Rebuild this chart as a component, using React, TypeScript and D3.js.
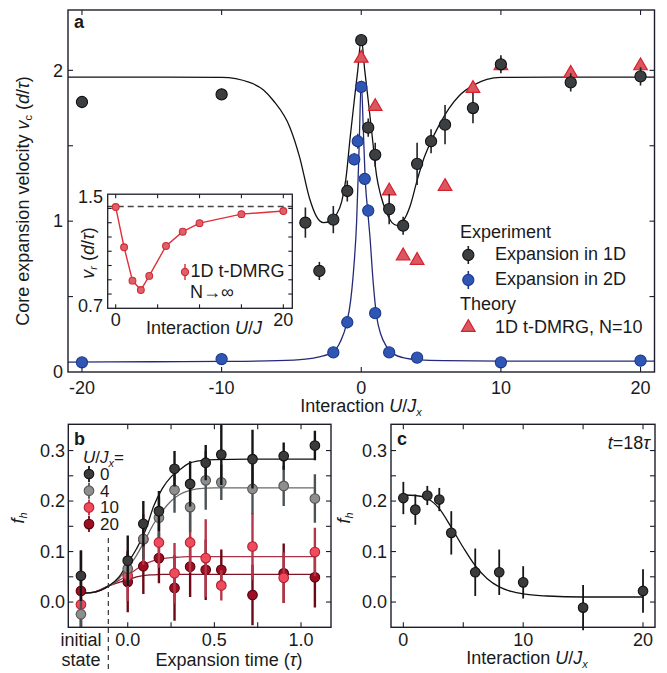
import React from 'react';
import * as d3 from 'd3';

const FONT = "'Liberation Sans', Arial, Helvetica, sans-serif";

// ---------------- Panel a data ----------------
const exp1dU = [-20, -10, -4, -3, -2, -1, 0, 0.5, 1, 2, 3, 4, 5, 6, 8, 10, 15, 20];
const exp1dV = [1.79, 1.84, 0.99, 0.67, 1.01, 1.2, 2.2, 1.62, 1.44, 1.08, 0.97, 1.38, 1.53, 1.64, 1.75, 2.04, 1.92, 1.96];
const exp1dErr = [0, 0.03, 0.1, 0.06, 0.09, 0.07, 0.03, 0.06, 0.08, 0.1, 0.06, 0.14, 0.08, 0.13, 0.1, 0.06, 0.06, 0.06];

const exp2dU = [-20, -10, -2, -1, -0.5, -0.25, 0, 0.25, 0.5, 1, 2, 4, 10, 20];
const exp2dV = [0.064, 0.086, 0.13, 0.33, 1.41, 1.53, 1.89, 1.28, 1.07, 0.39, 0.13, 0.095, 0.064, 0.075];
const exp2dErr = [0, 0, 0.02, 0.04, 0.04, 0.05, 0.03, 0.04, 0.04, 0.03, 0.02, 0.01, 0.01, 0.01];

const dmrgU = [0, 1, 2, 3, 4, 6, 8, 10, 15, 20];
const dmrgV = [2.08, 1.76, 1.2, 0.77, 0.74, 1.23, 1.88, 2.03, 1.98, 2.03];

const fit1dU = [-21, -14, -10, -8, -7, -6.3, -5.1, -4.4, -3.7, -3.2, -2.7, -2.2, -1.8, -1.4, -1.1, -0.8, -0.5, -0.25, 0, 0.25, 0.5, 0.8, 1.1, 1.4, 1.8, 2.2, 2.6, 3.0, 3.5, 4.0, 4.5, 5.0, 5.6, 6.3, 7, 8, 9, 10, 14, 21];
const fit1dV = [1.955, 1.955, 1.953, 1.92, 1.87, 1.8, 1.62, 1.42, 1.15, 1.03, 0.99, 1.0, 1.04, 1.13, 1.28, 1.55, 1.8, 2.0, 2.21, 2.0, 1.8, 1.55, 1.3, 1.17, 1.06, 0.99, 0.97, 1.0, 1.1, 1.27, 1.42, 1.53, 1.64, 1.75, 1.83, 1.9, 1.94, 1.953, 1.955, 1.955];

const fit2dU = [-21, -15, -10, -6, -4, -3, -2, -1.5, -1.05, -0.75, -0.57, -0.33, -0.15, 0, 0.15, 0.3, 0.45, 0.62, 0.85, 1.1, 1.4, 1.8, 2.4, 3, 4.2, 6, 10, 21];
const fit2dV = [0.066, 0.068, 0.07, 0.075, 0.085, 0.1, 0.135, 0.2, 0.32, 0.48, 0.65, 1.0, 1.5, 1.93, 1.6, 1.25, 1.08, 0.9, 0.6, 0.37, 0.25, 0.17, 0.115, 0.095, 0.08, 0.075, 0.072, 0.072];

// inset: 1D t-DMRG N -> infinity
const infU = [0, 1, 2, 3, 4, 6, 8, 10, 15, 20];
const infV = [1.41, 1.128, 0.894, 0.828, 0.927, 1.137, 1.237, 1.297, 1.36, 1.382];
const infErr = [0, 0, 0.01, 0.02, 0.02, 0, 0, 0, 0, 0];
const infLimit = 1.414;

// ---------------- Panel b data ----------------
const times = [-0.27, 0, 0.09, 0.18, 0.27, 0.36, 0.45, 0.54, 0.72, 0.9, 1.08];
const fh0 = [0.052, 0.082, 0.155, 0.18, 0.264, 0.234, 0.276, 0.292, 0.283, 0.289, 0.31];
const fh0Err = [0.05, 0.05, 0.045, 0.04, 0.035, 0.045, 0.035, 0.06, 0.058, 0.027, 0.029];
const fh4 = [-0.024, 0.066, 0.125, 0.167, 0.222, 0.188, 0.241, 0.237, 0.224, 0.23, 0.205];
const fh4Err = [0.03, 0.03, 0.04, 0.04, 0.045, 0.05, 0.058, 0.035, 0.05, 0.04, 0.048];
const fh10 = [-0.005, 0.052, 0.124, 0.118, 0.057, 0.118, 0.087, 0.033, 0.11, 0.048, 0.099];
const fh10Err = [0.05, 0.05, 0.05, 0.05, 0.06, 0.06, 0.077, 0.03, 0.066, 0.05, 0.048];
const fh20 = [0.022, 0.04, 0.071, 0.087, 0.028, 0.07, 0.064, 0.064, 0.014, 0.057, 0.049];
const fh20Err = [0.08, 0.06, 0.055, 0.05, 0.065, 0.06, 0.06, 0.04, 0.06, 0.059, 0.06];

const fitTB = [-0.27, -0.2, -0.11, -0.05, 0, 0.05, 0.1, 0.15, 0.2, 0.25, 0.3, 0.35, 0.4, 0.5, 0.7, 1.08];
const fit0 = [0.017, 0.019, 0.032, 0.05, 0.077, 0.105, 0.14, 0.19, 0.225, 0.248, 0.262, 0.274, 0.279, 0.282, 0.283, 0.283];
const fit4 = [0.017, 0.019, 0.031, 0.047, 0.068, 0.092, 0.123, 0.155, 0.18, 0.2, 0.213, 0.22, 0.224, 0.226, 0.226, 0.226];
const fit10 = [0.017, 0.019, 0.032, 0.043, 0.053, 0.065, 0.075, 0.082, 0.086, 0.088, 0.089, 0.09, 0.09, 0.09, 0.09, 0.09];
const fit20 = [0.017, 0.019, 0.032, 0.039, 0.044, 0.05, 0.053, 0.054, 0.055, 0.055, 0.055, 0.055, 0.055, 0.055, 0.055, 0.055];

const legendB = ['0', '4', '10', '20'];

// ---------------- Panel c data ----------------
const cU = [0, 1, 2, 3, 4, 6, 8, 10, 15, 20];
const cF = [0.206, 0.183, 0.211, 0.203, 0.137, 0.059, 0.059, 0.039, -0.011, 0.022];
const cErr = [0.032, 0.03, 0.019, 0.023, 0.043, 0.047, 0.045, 0.032, 0.045, 0.043];
const cFitU = [0, 1, 2, 3, 4, 5, 6, 7, 8, 9, 10, 12, 15, 20];
const cFitF = [0.212, 0.211, 0.205, 0.185, 0.148, 0.108, 0.072, 0.046, 0.03, 0.021, 0.016, 0.012, 0.01, 0.01];

// ---------------- scales ----------------
const xA = d3.scaleLinear().domain([-21, 21]).range([68, 654.5]);
const yA = d3.scaleLinear().domain([0, 2.4]).range([372, 10]);
const xI = d3.scaleLinear().domain([-0.955, 21.07]).range([107.7, 292.3]);
const yI = d3.scaleLinear().domain([0.7, 1.5]).range([308.3, 194.2]);
const xB = d3.scaleLinear().domain([-0.343, 1.173]).range([68.3, 331]);
const yF = d3.scaleLinear().domain([-0.05, 0.352]).range([627.3, 424.3]);
const xC = d3.scaleLinear().domain([-1.03, 21.0]).range([391, 655]);

const FRAME = '#1d1d2b';

const zip = (a: number[], b: number[]) => a.map((v, i) => [v, b[i]] as [number, number]);

function Frame({ x0, x1, y0, y1 }: any) {
  return <rect x={x0} y={y0} width={x1 - x0} height={y1 - y0} fill="none" stroke={FRAME} strokeWidth={1.4} />;
}

function Ticks({ x0, x1, y0, y1, xs, ys, xScale, yScale, len = 5 }: any) {
  return (
    <g stroke={FRAME} strokeWidth={1.1}>
      {xs.map((t: number, i: number) => (
        <g key={'x' + i}>
          <line x1={xScale(t)} x2={xScale(t)} y1={y1} y2={y1 - len} />
          <line x1={xScale(t)} x2={xScale(t)} y1={y0} y2={y0 + len} />
        </g>
      ))}
      {ys.map((t: number, i: number) => (
        <g key={'y' + i}>
          <line x1={x0} x2={x0 + len} y1={yScale(t)} y2={yScale(t)} />
          <line x1={x1} x2={x1 - len} y1={yScale(t)} y2={yScale(t)} />
        </g>
      ))}
    </g>
  );
}

function Points({ xs, ys, errs, xScale, yScale, r, fill, stroke, errColor, errWidth = 1.5 }: any) {
  return (
    <g>
      {xs.map((x: number, i: number) =>
        errs && errs[i] > 0 ? (
          <line key={'e' + i} x1={xScale(x)} x2={xScale(x)} y1={yScale(ys[i] - errs[i])} y2={yScale(ys[i] + errs[i])}
            stroke={errColor} strokeWidth={errWidth} />
        ) : null
      )}
      {xs.map((x: number, i: number) => (
        <circle key={'c' + i} cx={xScale(x)} cy={yScale(ys[i])} r={r} fill={fill} stroke={stroke} strokeWidth={1.1} />
      ))}
    </g>
  );
}

export default function App() {
  const lineA = d3.line<[number, number]>().x(d => xA(d[0])).y(d => yA(d[1])).curve(d3.curveMonotoneX);
  const lineI = d3.line<[number, number]>().x(d => xI(d[0])).y(d => yI(d[1]));
  const lineB = d3.line<[number, number]>().x(d => xB(d[0])).y(d => yF(d[1])).curve(d3.curveMonotoneX);
  const lineC = d3.line<[number, number]>().x(d => xC(d[0])).y(d => yF(d[1])).curve(d3.curveMonotoneX);
  const tri = d3.symbol().type(d3.symbolTriangle).size(80)() as string;

  const aX0 = 68, aX1 = 654.5, aY0 = 10, aY1 = 372;
  const iX0 = 107.7, iX1 = 292.3, iY0 = 194.2, iY1 = 308.3;
  const bX0 = 68.3, bX1 = 331, bY0 = 424.3, bY1 = 627.3;
  const cX0 = 391, cX1 = 655, cY0 = 424.3, cY1 = 627.3;

  const bSeries = [
    { v: fh20, e: fh20Err, fill: '#9b0f20', stroke: '#5a0010', err: '#6b0a16', fit: fit20, line: '#7d1526' },
    { v: fh10, e: fh10Err, fill: '#ef4b5c', stroke: '#b32032', err: '#b5364a', fit: fit10, line: '#a83348' },
    { v: fh4, e: fh4Err, fill: '#8e8e8e', stroke: '#555', err: '#4b5256', fit: fit4, line: '#6a6a6a' },
    { v: fh0, e: fh0Err, fill: '#3a3b3c', stroke: '#111', err: '#151515', fit: fit0, line: '#111' },
  ];
  const legendColors = [
    { fill: '#3a3b3c', stroke: '#111', err: '#151515' },
    { fill: '#8e8e8e', stroke: '#555', err: '#4b5256' },
    { fill: '#ef4b5c', stroke: '#b32032', err: '#b5364a' },
    { fill: '#9b0f20', stroke: '#5a0010', err: '#6b0a16' },
  ];

  const fs = 18;
  const txt = '#1a1a1a';

  return (
    <svg width={667} height={673} style={{ position: 'absolute', left: 0, top: 0, background: '#fff' }}
      fontFamily={FONT} fontSize={fs} fill={txt}>
      <defs>
        <clipPath id="clipB"><rect x={bX0} y={bY0} width={bX1 - bX0} height={bY1 - bY0} /></clipPath>
        <clipPath id="clipA"><rect x={aX0} y={aY0} width={aX1 - aX0} height={aY1 - aY0} /></clipPath>
      </defs>

      {/* ================= Panel a ================= */}
      <g clipPath="url(#clipA)">
        <path d={lineA(zip(fit1dU, fit1dV)) as string} fill="none" stroke="#111" strokeWidth={1.3} />
        <path d={lineA(zip(fit2dU, fit2dV)) as string} fill="none" stroke="#252a78" strokeWidth={1.3} />
        {dmrgU.map((u, i) => (
          <path key={'t' + i} d={tri} transform={`translate(${xA(u)},${yA(dmrgV[i])})`}
            fill="#d9585f" stroke="#d9202f" strokeWidth={1.2} />
        ))}
        <Points xs={exp1dU} ys={exp1dV} errs={exp1dErr} xScale={xA} yScale={yA} r={5.6}
          fill="#3c3f41" stroke="#111" errColor="#222" errWidth={1.6} />
        <Points xs={exp2dU} ys={exp2dV} errs={exp2dErr} xScale={xA} yScale={yA} r={5.6}
          fill="#2f56b4" stroke="#1d3a8a" errColor="#1d3a8a" errWidth={1.6} />
      </g>
      <Ticks x0={aX0} x1={aX1} y0={aY0} y1={aY1} xs={[-20, -10, 0, 10, 20]} ys={[0.5, 1, 1.5, 2]}
        xScale={xA} yScale={yA} len={5} />
      <Frame x0={aX0} x1={aX1} y0={aY0} y1={aY1} />
      {[-20, -10, 0, 10, 20].map(t => (
        <text key={'ax' + t} x={xA(t)} y={394} textAnchor="middle">{t}</text>
      ))}
      {[0, 1, 2].map(t => (
        <text key={'ay' + t} x={63} y={yA(t)} dy="0.35em" textAnchor="end">{t}</text>
      ))}
      <text x={361} y={412} textAnchor="middle">
        Interaction <tspan fontStyle="italic">U</tspan>/<tspan fontStyle="italic">J</tspan>
        <tspan fontStyle="italic" fontSize={11} dy={4}>x</tspan>
      </text>
      <text transform={`translate(29,201) rotate(-90)`} textAnchor="middle">
        Core expansion velocity <tspan fontStyle="italic">v</tspan>
        <tspan fontSize={11} dy={3}>c</tspan>
        <tspan dy={-3}> (</tspan><tspan fontStyle="italic">d</tspan>/<tspan fontStyle="italic">τ</tspan>)
      </text>
      <text x={74} y={28} fontWeight="bold">a</text>

      {/* legend a */}
      <text x={460} y={238}>Experiment</text>
      <line x1={468.3} x2={468.3} y1={246} y2={264} stroke="#222" strokeWidth={1.6} />
      <circle cx={468.3} cy={255} r={5.6} fill="#3c3f41" stroke="#111" strokeWidth={1.1} />
      <text x={495} y={260}>Expansion in 1D</text>
      <line x1={468.3} x2={468.3} y1={271} y2={289} stroke="#1d3a8a" strokeWidth={1.6} />
      <circle cx={468.3} cy={280} r={5.6} fill="#2f56b4" stroke="#1d3a8a" strokeWidth={1.1} />
      <text x={495} y={285}>Expansion in 2D</text>
      <text x={460} y={310}>Theory</text>
      <path d={tri} transform={`translate(468.3,327.5)`} fill="#d9585f" stroke="#d9202f" strokeWidth={1.2} />
      <text x={495} y={333}>1D t-DMRG, N=10</text>

      {/* inset */}
      <rect x={iX0} y={iY0} width={iX1 - iX0} height={iY1 - iY0} fill="#fff" />
      <line x1={iX0} x2={iX1} y1={yI(infLimit)} y2={yI(infLimit)} stroke="#444" strokeWidth={1.5} strokeDasharray="6,4" />
      <path d={lineI(zip(infU, infV)) as string} fill="none" stroke="#e0303c" strokeWidth={1.4} />
      <Points xs={infU} ys={infV} errs={infErr} xScale={xI} yScale={yI} r={3.4}
        fill="#e06068" stroke="#d02a38" errColor="#d02a38" errWidth={1.4} />
      <Ticks x0={iX0} x1={iX1} y0={iY0} y1={iY1} xs={[0, 5, 10, 15, 20]} ys={[0.8, 0.9, 1.0, 1.1, 1.2, 1.3, 1.4]}
        xScale={xI} yScale={yI} len={4} />
      <rect x={iX0} y={iY0} width={iX1 - iX0} height={iY1 - iY0} fill="none" stroke={FRAME} strokeWidth={1.3} />
      <text x={103} y={197} dy="0.35em" textAnchor="end">1.5</text>
      <text x={103} y={306} dy="0.35em" textAnchor="end">0.7</text>
      <text x={xI(0)} y={326} textAnchor="middle">0</text>
      <text x={xI(20)} y={326} textAnchor="middle">20</text>
      <text x={204} y={334} textAnchor="middle">
        Interaction <tspan fontStyle="italic">U</tspan>/<tspan fontStyle="italic">J</tspan>
      </text>
      <text transform={`translate(94,253) rotate(-90)`} textAnchor="middle">
        <tspan fontStyle="italic">v</tspan><tspan fontSize={11} dy={3} fontStyle="italic">r</tspan>
        <tspan dy={-3}> (</tspan><tspan fontStyle="italic">d</tspan>/<tspan fontStyle="italic">τ</tspan>)
      </text>
      <line x1={185} x2={185} y1={264} y2={280} stroke="#d02a38" strokeWidth={1.4} />
      <circle cx={185} cy={272} r={3.6} fill="#e06068" stroke="#d02a38" strokeWidth={1.1} />
      <text x={190.5} y={277}>1D t-DMRG</text>
      <text x={190} y={298}>N→∞</text>

      {/* ================= Panel b ================= */}
      <g clipPath="url(#clipB)">
        {bSeries.map((s, k) => (
          <path key={'bf' + k} d={lineB(zip(fitTB, s.fit)) as string} fill="none" stroke={s.line} strokeWidth={1.3} />
        ))}
        {bSeries.map((s, k) => (
          <Points key={'bp' + k} xs={times} ys={s.v} errs={s.e} xScale={xB} yScale={yF} r={4.8}
            fill={s.fill} stroke={s.stroke} errColor={s.err} errWidth={2.4} />
        ))}
      </g>
      <Ticks x0={bX0} x1={bX1} y0={bY0} y1={bY1} xs={[0, 0.25, 0.5, 0.75, 1.0]}
        ys={[0, 0.05, 0.1, 0.15, 0.2, 0.25, 0.3]} xScale={xB} yScale={yF} len={5} />
      <Frame x0={bX0} x1={bX1} y0={bY0} y1={bY1} />
      <line x1={xB(-0.112)} x2={xB(-0.112)} y1={538} y2={673} stroke="#333" strokeWidth={1.2} strokeDasharray="5,4" />
      {[0, 0.1, 0.2, 0.3].map(t => (
        <text key={'by' + t} x={65} y={yF(t)} dy="0.35em" textAnchor="end">{t.toFixed(1)}</text>
      ))}
      {[0, 0.5, 1.0].map(t => (
        <text key={'bx' + t} x={xB(t)} y={646} textAnchor="middle">{t.toFixed(1)}</text>
      ))}
      <text x={81} y={646} textAnchor="middle">initial</text>
      <text x={81} y={666} textAnchor="middle">state</text>
      <text x={229} y={666} textAnchor="middle">
        Expansion time (<tspan fontStyle="italic">τ</tspan>)
      </text>
      <text transform={`translate(24,518) rotate(-90)`} textAnchor="middle">
        <tspan fontStyle="italic">f</tspan><tspan fontSize={11} dy={3} fontStyle="italic">h</tspan>
      </text>
      <text x={74} y={445} fontWeight="bold">b</text>
      <g fontSize={17}>
        <text x={83} y={463}>
          <tspan fontStyle="italic">U</tspan>/<tspan fontStyle="italic">J</tspan>
          <tspan fontStyle="italic" fontSize={11} dy={4}>x</tspan><tspan dy={-4}>=</tspan>
        </text>
        {legendB.map((lab, i) => {
          const cy = 474 + i * 16.7;
          const c = legendColors[i];
          return (
            <g key={'lb' + i}>
              <line x1={89} x2={89} y1={cy - 8} y2={cy + 8} stroke={c.err} strokeWidth={1.8} />
              <circle cx={89} cy={cy} r={4.8} fill={c.fill} stroke={c.stroke} strokeWidth={1.1} />
              <text x={100} y={cy + 6}>{lab}</text>
            </g>
          );
        })}
      </g>

      {/* ================= Panel c ================= */}
      <path d={lineC(zip(cFitU, cFitF)) as string} fill="none" stroke="#111" strokeWidth={1.3} />
      <Points xs={cU} ys={cF} errs={cErr} xScale={xC} yScale={yF} r={4.8}
        fill="#3a3b3c" stroke="#111" errColor="#151515" errWidth={1.8} />
      <Ticks x0={cX0} x1={cX1} y0={cY0} y1={cY1} xs={[0, 5, 10, 15, 20]}
        ys={[0, 0.05, 0.1, 0.15, 0.2, 0.25, 0.3]} xScale={xC} yScale={yF} len={5} />
      <Frame x0={cX0} x1={cX1} y0={cY0} y1={cY1} />
      {[0, 0.1, 0.2, 0.3].map(t => (
        <text key={'cy' + t} x={387} y={yF(t)} dy="0.35em" textAnchor="end">{t.toFixed(1)}</text>
      ))}
      {[0, 10, 20].map(t => (
        <text key={'cx' + t} x={xC(t)} y={646} textAnchor="middle">{t}</text>
      ))}
      <text x={527} y={664} textAnchor="middle">
        Interaction <tspan fontStyle="italic">U</tspan>/<tspan fontStyle="italic">J</tspan>
        <tspan fontStyle="italic" fontSize={11} dy={4}>x</tspan>
      </text>
      <text transform={`translate(350,518) rotate(-90)`} textAnchor="middle">
        <tspan fontStyle="italic">f</tspan><tspan fontSize={11} dy={3} fontStyle="italic">h</tspan>
      </text>
      <text x={397} y={445} fontWeight="bold">c</text>
      <text x={650} y={449} textAnchor="end">
        <tspan fontStyle="italic">t</tspan>=18<tspan fontStyle="italic">τ</tspan>
      </text>
    </svg>
  );
}
